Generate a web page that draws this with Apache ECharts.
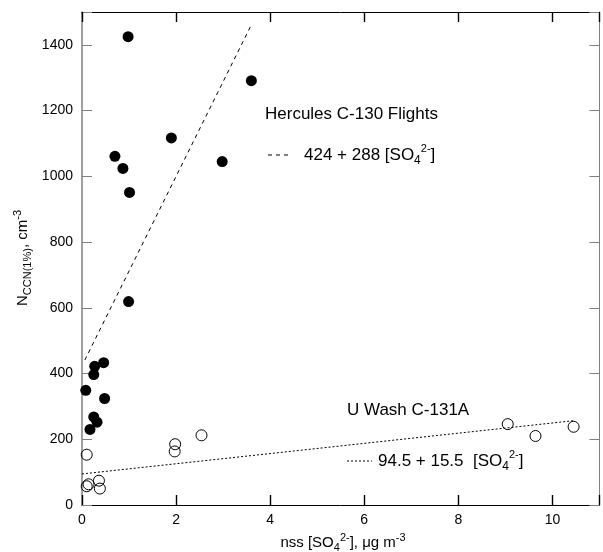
<!DOCTYPE html>
<html>
<head>
<meta charset="utf-8">
<script src="https://cdn.jsdelivr.net/npm/echarts@6/dist/echarts.min.js"></script>
<style>html,body{margin:0;padding:0;background:#fff}#c{width:603px;height:552px}</style>
</head>
<body>
<div id="c"></div>
<script>
// Hercules C-130 flights (filled circles)
const herculesX = [0.98, 3.60, 1.90, 0.70, 0.87, 2.98, 1.01, 0.99, 0.08, 0.27, 0.25, 0.46, 0.48, 0.25, 0.32, 0.17];
const herculesY = [1425, 1291, 1117, 1061, 1024, 1045, 951, 619, 349, 422, 397, 433, 324, 268, 252, 230];
// U Wash C-131A (open circles)
const uwashX = [0.10, 1.98, 1.97, 2.54, 0.10, 0.14, 0.36, 0.38, 9.05, 9.64, 10.45];
const uwashY = [153, 185, 163, 212, 57, 63, 74, 50, 246, 210, 238];
// Fit lines (end points)
const herculesFitX = [0.06, 3.60];
const herculesFitY = [441, 1461];
const uwashFitX = [0, 10.45];
const uwashFitY = [94.5, 256.5];
// Axis ticks
const xTicks = [0, 2, 4, 6, 8, 10];
const yTicks = [0, 200, 400, 600, 800, 1000, 1200, 1400];

const zip = (a, b) => a.map((v, i) => [v, b[i]]);
const FONT = 'Liberation Sans, Arial, sans-serif';

const chart = echarts.init(document.getElementById('c'), null, {renderer: 'canvas'});

const xMin = xTicks[0], xInt = xTicks[1] - xTicks[0], xMax = 11;
const yMin = yTicks[0], yInt = yTicks[1] - yTicks[0], yMax = 1500;

const hideMax = (max) => (v => (v >= max ? '' : String(v)));

const richSub = {
  a: {fontSize: 17, fontFamily: FONT, color: '#000', lineHeight: 24},
  sub: {fontSize: 12, fontFamily: FONT, color: '#000', lineHeight: 12, verticalAlign: 'bottom'},
  sup: {fontSize: 11, fontFamily: FONT, color: '#000', lineHeight: 16, verticalAlign: 'top'}
};
const richAx = {
  a: {fontSize: 15, fontFamily: FONT, color: '#000', lineHeight: 21},
  sub: {fontSize: 11, fontFamily: FONT, color: '#000', lineHeight: 11, verticalAlign: 'bottom'},
  sup: {fontSize: 11, fontFamily: FONT, color: '#000', lineHeight: 13, verticalAlign: 'top'}
};

chart.setOption({
  animation: false,
  backgroundColor: '#fff',
  grid: {left: 82, top: 12, width: 521, height: 493},
  xAxis: [
    {type: 'value', min: xMin, max: xMax, interval: xInt, position: 'bottom', splitLine: {show: false},
      axisLine: {show: true, onZero: false, lineStyle: {color: '#000', width: 1}},
      axisTick: {show: true, inside: true, length: 10, lineStyle: {color: '#000', width: 1.4}},
      axisLabel: {show: true, formatter: hideMax(xMax), fontSize: 14, fontFamily: FONT, color: '#000', margin: 8}},
    {type: 'value', min: xMin, max: xMax, interval: xInt, position: 'top', splitLine: {show: false},
      axisLine: {show: true, onZero: false, lineStyle: {color: '#000', width: 1}},
      axisTick: {show: true, inside: true, length: 10, lineStyle: {color: '#000', width: 1.4}},
      axisLabel: {show: true, color: 'rgba(0,0,0,0)', fontSize: 1, margin: 0}}
  ],
  yAxis: [
    {type: 'value', min: yMin, max: yMax, interval: yInt, position: 'left', splitLine: {show: false},
      axisLine: {show: true, onZero: false, lineStyle: {color: '#808080', width: 1.5}},
      axisTick: {show: true, inside: true, length: 10, lineStyle: {color: '#808080', width: 1}},
      axisLabel: {show: true, formatter: hideMax(yMax), fontSize: 14, fontFamily: FONT, color: '#000', margin: 9}},
    {type: 'value', min: yMin, max: yMax, interval: yInt, position: 'right', splitLine: {show: false},
      axisLine: {show: true, onZero: false, lineStyle: {color: '#808080', width: 1}},
      axisTick: {show: true, inside: true, length: 10, lineStyle: {color: '#808080', width: 1}},
      axisLabel: {show: false}}
  ],
  series: [
    {
      type: 'line', data: zip(herculesFitX, herculesFitY), showSymbol: false, symbol: 'none',
      lineStyle: {color: '#000', width: 1, type: [4, 4]}, z: 1, silent: true
    },
    {
      type: 'line', data: zip(uwashFitX, uwashFitY), showSymbol: false, symbol: 'none',
      lineStyle: {color: '#000', width: 1, type: [2, 2]}, z: 1, silent: true
    },
    {
      type: 'scatter', data: zip(uwashX, uwashY), symbol: 'circle', symbolSize: 11,
      itemStyle: {color: 'rgba(255,255,255,0)', borderColor: '#000', borderWidth: 1, opacity: 1}, z: 3
    },
    {
      type: 'scatter', data: zip(herculesX, herculesY), symbol: 'circle', symbolSize: 11,
      itemStyle: {color: '#000', borderWidth: 0, opacity: 1}, z: 4
    }
  ],
  graphic: [
    {type: 'text', left: 265, top: 106, style: {text: 'Hercules C-130 Flights', font: '17px ' + FONT, fill: '#000'}},
    {type: 'line', shape: {x1: 268, y1: 155, x2: 292, y2: 155}, style: {stroke: '#000', lineWidth: 1, lineDash: [4, 4]}},
    {type: 'text', x: 304, y: 155, style: {
      text: '{a|424 + 288 [SO}{sub|4}{sup|2-}{a|]}', rich: richSub, verticalAlign: 'middle', align: 'left'}},
    {type: 'text', left: 347, top: 402, style: {text: 'U Wash C-131A', font: '17px ' + FONT, fill: '#000'}},
    {type: 'line', shape: {x1: 347, y1: 461, x2: 372, y2: 461}, style: {stroke: '#000', lineWidth: 1, lineDash: [2, 2]}},
    {type: 'text', x: 378, y: 461, style: {
      text: '{a|94.5 + 15.5  [SO}{sub|4}{sup|2-}{a|]}', rich: richSub, verticalAlign: 'middle', align: 'left'}},
    {type: 'text', x: 343, y: 543, style: {
      text: '{a|nss [SO}{sub|4}{sup|2-}{a|], μg m}{sup|-3}', rich: richAx, verticalAlign: 'middle', align: 'center'}},
    {type: 'text', x: 23, y: 258, rotation: Math.PI / 2, style: {
      text: '{a|N}{sub|CCN(1%)}{a|, cm}{sup|-3}', rich: richAx, verticalAlign: 'middle', align: 'center'}}
  ]
});
</script>
</body>
</html>
